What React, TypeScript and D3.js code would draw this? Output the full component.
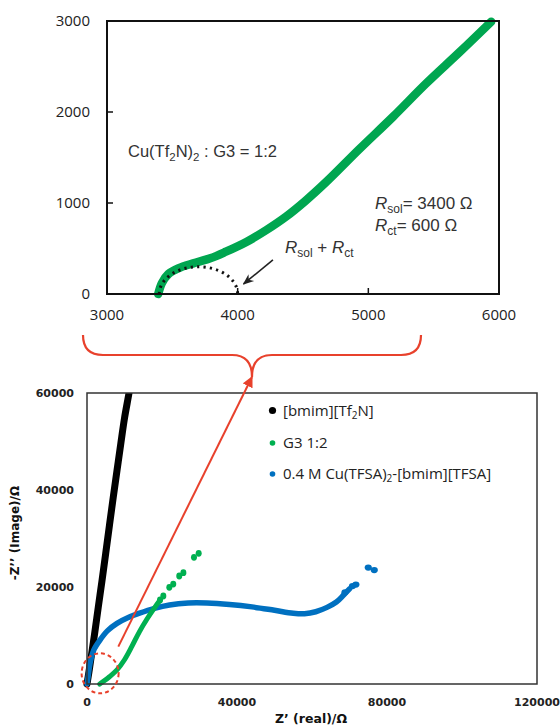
import React from "react";
import * as d3 from "d3";

// ---------- Top panel data (zoomed Nyquist plot, G3 1:2) ----------
const topXTicks = [3000, 4000, 5000, 6000];
const topYTicks = [0, 1000, 2000, 3000];
const topGreenX = [3392, 3420, 3470, 3550, 3660, 3790, 3910, 4070, 4220, 4370, 4520, 4680, 4930, 5190, 5440, 5700, 5940];
const topGreenY = [0, 120, 220, 285, 337, 392, 465, 575, 703, 850, 1025, 1234, 1590, 1949, 2310, 2660, 2992];
const Rsol = 3400;
const Rct = 600;

// ---------- Bottom panel data ----------
const botXTicks = [0, 40000, 80000, 120000];
const botYTicks = [0, 20000, 40000, 60000];
const legendLabels = ["[bmim][Tf2N]", "G3 1:2", "0.4 M Cu(TFSA)2-[bmim][TFSA]"];

const blackX = [0, 500, 1000, 2000, 3000, 4000, 5000, 6000, 7000, 8000, 9000, 10000, 11200, 11600];
const blackY = [0, 2400, 5000, 10200, 15800, 21300, 27000, 32800, 38500, 44000, 49500, 54800, 60000, 62000];

const greenX = [3400, 4500, 6000, 8000, 10000, 12000, 14000, 16000, 18000, 19500];
const greenY = [0, 600, 1500, 2900, 5000, 7800, 10800, 13400, 15700, 17300];
const greenTailX = [19470, 20350, 21950, 23000, 24600, 25700, 28530, 29780];
const greenTailY = [17320, 18140, 19930, 20600, 22270, 22950, 26120, 26940];

const blueX = [0, 300, 800, 1800, 3500, 5500, 8000, 11000, 14000, 18000, 22000, 27000, 32000, 38000, 44000, 50000, 55000, 58000, 61000, 64000, 66500, 68500, 70000];
const blueY = [0, 1500, 4200, 7000, 9100, 11000, 12500, 13700, 14600, 15600, 16300, 16700, 16700, 16400, 15900, 15200, 14600, 14500, 14900, 15800, 16900, 18400, 19600];
const blueTailX = [68800, 70800, 71700, 75000, 76600];
const blueTailY = [18900, 20200, 20500, 24000, 23500];

const GREEN = "#00a650";
const GREEN2 = "#00b050";
const BLUE = "#0070c0";
const RED = "#e8412c";

export default function App() {
  // top scales
  const tx = d3.scaleLinear().domain([3000, 6000]).range([107, 499]);
  const ty = d3.scaleLinear().domain([0, 3000]).range([294, 21]);
  // bottom scales
  const bx = d3.scaleLinear().domain([0, 120000]).range([87, 537]);
  const by = d3.scaleLinear().domain([0, 60000]).range([684, 393]);

  const topLine = d3
    .line<number>()
    .x((_, i) => tx(topGreenX[i]))
    .y((_, i) => ty(topGreenY[i]))
    .curve(d3.curveCatmullRom);
  const topPath = topLine(topGreenX) || "";

  const mk = (xs: number[], ys: number[]) =>
    d3
      .line<number>()
      .x((_, i) => bx(xs[i]))
      .y((_, i) => by(ys[i]))
      .curve(d3.curveCatmullRom)(xs) || "";

  // semicircle of Rsol..Rsol+Rct
  const cx0 = tx(Rsol);
  const cx1 = tx(Rsol + Rct);
  const rx = (cx1 - cx0) / 2;
  const ry = ty(0) - ty(Rct / 2);
  const arcPath = `M ${cx0} ${ty(0)} A ${rx} ${ry} 0 0 1 ${cx1} ${ty(0)}`;

  const tfont = "'Open Sans', sans-serif";
  const afont = "'Liberation Sans', Arial, sans-serif";
  const bfont = "'DejaVu Sans', Verdana, sans-serif";

  // arrow top (data coords)
  const arrA = [4270, 374];
  const arrB = [4045, 110];

  // brace geometry (layout)
  const bL = 83, bR = 421, bC = 252, bTop = 335, bMid = 355, bTip = 377, r = 20;
  const bracePath = `M ${bL} ${bTop} Q ${bL} ${bMid} ${bL + r} ${bMid} L ${bC - r} ${bMid} Q ${bC} ${bMid} ${bC} ${bTip} Q ${bC} ${bMid} ${bC + r} ${bMid} L ${bR - r} ${bMid} Q ${bR} ${bMid} ${bR} ${bTop}`;

  const redStart = [bx(8350), by(7700)];

  const legendY = [410.5, 443, 474];
  const legendColors = ["#000", GREEN2, BLUE];
  const legendR = [3.6, 2.8, 2.8];

  return (
    <svg width={560} height={727} style={{ position: "absolute", left: 0, top: 0, background: "#fff" }}>
      <defs>
        <marker id="blackArrow" viewBox="0 0 10 10" refX="9" refY="5" markerWidth="7" markerHeight="7" orient="auto">
          <path d="M0,1 L10,5 L0,9 L3,5 z" fill="#222" />
        </marker>
        <marker id="redArrow" viewBox="0 0 10 10" refX="9" refY="5" markerWidth="5.5" markerHeight="5.5" orient="auto">
          <path d="M0,0 L10,5 L0,10 z" fill={RED} />
        </marker>
        <clipPath id="botClip">
          <rect x={bx(0) - 6} y={by(60000)} width={bx(120000) - bx(0) + 6} height={by(0) - by(60000) + 6} />
        </clipPath>
      </defs>

      {/* ================= TOP PANEL ================= */}
      <path d={topPath} fill="none" stroke={GREEN} strokeWidth={8.5} strokeLinecap="round" strokeLinejoin="round" />
      <path d={arcPath} fill="none" stroke="#111" strokeWidth={3} strokeDasharray="2.2 4.2" />
      <rect x={tx(3000)} y={ty(3000)} width={tx(6000) - tx(3000)} height={ty(0) - ty(3000)} fill="none" stroke="#111" strokeWidth={2} />
      {topYTicks.slice(1, 3).map((v) => (
        <line key={"ty" + v} x1={tx(3000)} x2={tx(3000) + 6} y1={ty(v)} y2={ty(v)} stroke="#111" strokeWidth={1.5} />
      ))}
      {topXTicks.slice(1, 3).map((v) => (
        <line key={"tx" + v} x1={tx(v)} x2={tx(v)} y1={ty(0)} y2={ty(0) - 6} stroke="#111" strokeWidth={1.5} />
      ))}
      {topYTicks.map((v) => (
        <text key={"tyl" + v} x={90} y={ty(v) + 5} textAnchor="end" fontFamily={tfont} fontSize={15} fill="#222">
          {v}
        </text>
      ))}
      {topXTicks.map((v) => (
        <text key={"txl" + v} x={tx(v)} y={320} textAnchor="middle" fontFamily={tfont} fontSize={15} fill="#222">
          {v}
        </text>
      ))}
      <text x={128} y={157} fontFamily={afont} fontSize={16.5} fill="#333">
        Cu(Tf<tspan fontSize={11.5} dy={4}>2</tspan>
        <tspan dy={-4}>N)</tspan>
        <tspan fontSize={11.5} dy={4}>2</tspan>
        <tspan dy={-4}> : G3 = 1:2</tspan>
      </text>
      <text x={375} y={209} fontFamily={afont} fontSize={17} fill="#333">
        <tspan fontStyle="italic">R</tspan>
        <tspan fontSize={12} dy={4}>sol</tspan>
        <tspan dy={-4}>= {Rsol} Ω</tspan>
      </text>
      <text x={375} y={231} fontFamily={afont} fontSize={17} fill="#333">
        <tspan fontStyle="italic">R</tspan>
        <tspan fontSize={12} dy={4}>ct</tspan>
        <tspan dy={-4}>= {Rct} Ω</tspan>
      </text>
      <text x={285} y={253} fontFamily={afont} fontSize={17} fill="#333">
        <tspan fontStyle="italic">R</tspan>
        <tspan fontSize={12} dy={4}>sol</tspan>
        <tspan dy={-4}> + </tspan>
        <tspan fontStyle="italic">R</tspan>
        <tspan fontSize={12} dy={4}>ct</tspan>
      </text>
      <line x1={tx(arrA[0])} y1={ty(arrA[1])} x2={tx(arrB[0])} y2={ty(arrB[1])} stroke="#222" strokeWidth={1.6} markerEnd="url(#blackArrow)" />

      {/* ================= BRACE ================= */}
      <path d={bracePath} fill="none" stroke={RED} strokeWidth={2.2} />

      {/* ================= BOTTOM PANEL ================= */}
      <g clipPath="url(#botClip)">
        <path d={mk(blackX, blackY)} fill="none" stroke="#000" strokeWidth={7} strokeLinecap="round" />
        <path d={mk(blueX, blueY)} fill="none" stroke={BLUE} strokeWidth={5.5} strokeLinecap="round" />
        {blueTailX.map((v, i) => (
          <ellipse key={"bt" + i} cx={bx(v)} cy={by(blueTailY[i])} rx={3.6} ry={3.1} fill={BLUE} />
        ))}
        <path d={mk(greenX, greenY)} fill="none" stroke={GREEN2} strokeWidth={5} strokeLinecap="round" />
        {greenTailX.map((v, i) => (
          <ellipse key={"gt" + i} cx={bx(v)} cy={by(greenTailY[i])} rx={3} ry={3.4} fill={GREEN2} />
        ))}
      </g>
      <rect x={bx(0)} y={by(60000)} width={bx(120000) - bx(0)} height={by(0) - by(60000)} fill="none" stroke="#333" strokeWidth={1.5} />
      {botYTicks.map((v) => (
        <text key={"byl" + v} x={74} y={by(v) + 4} textAnchor="end" fontFamily={bfont} fontWeight="bold" fontSize={11} fill="#222">
          {v}
        </text>
      ))}
      {botXTicks.map((v) => (
        <text key={"bxl" + v} x={bx(v)} y={706} textAnchor="middle" fontFamily={bfont} fontWeight="bold" fontSize={11} fill="#222">
          {v}
        </text>
      ))}
      <text x={311} y={723} textAnchor="middle" fontFamily={bfont} fontWeight="bold" fontSize={12.5} fill="#111">
        Z’ (real)/Ω
      </text>
      <text transform={`translate(19,533) rotate(-90)`} textAnchor="middle" fontFamily={bfont} fontWeight="bold" fontSize={12} fill="#111">
        -Z’’ (Image)/Ω
      </text>

      {/* legend */}
      {legendLabels.map((lab, i) => (
        <g key={"lg" + i}>
          <circle cx={272.5} cy={legendY[i]} r={legendR[i]} fill={legendColors[i]} />
          <text x={283} y={legendY[i] + 5} fontFamily={tfont} fontSize={15} fill="#222">
            {i === 0 ? (
              <>
                [bmim][Tf<tspan fontSize={10} dy={3}>2</tspan>
                <tspan dy={-3}>N]</tspan>
              </>
            ) : i === 2 ? (
              <>
                0.4 M Cu(TFSA)<tspan fontSize={10} dy={3}>2</tspan>
                <tspan dy={-3}>-[bmim][TFSA]</tspan>
              </>
            ) : (
              lab
            )}
          </text>
        </g>
      ))}

      {/* red dashed circle & arrow */}
      <ellipse cx={bx(3500)} cy={by(2200)} rx={18.5} ry={20} fill="none" stroke={RED} strokeWidth={2} strokeDasharray="4 3" />
      <line x1={redStart[0]} y1={redStart[1]} x2={bC} y2={bTip} stroke={RED} strokeWidth={2} markerEnd="url(#redArrow)" />
    </svg>
  );
}
